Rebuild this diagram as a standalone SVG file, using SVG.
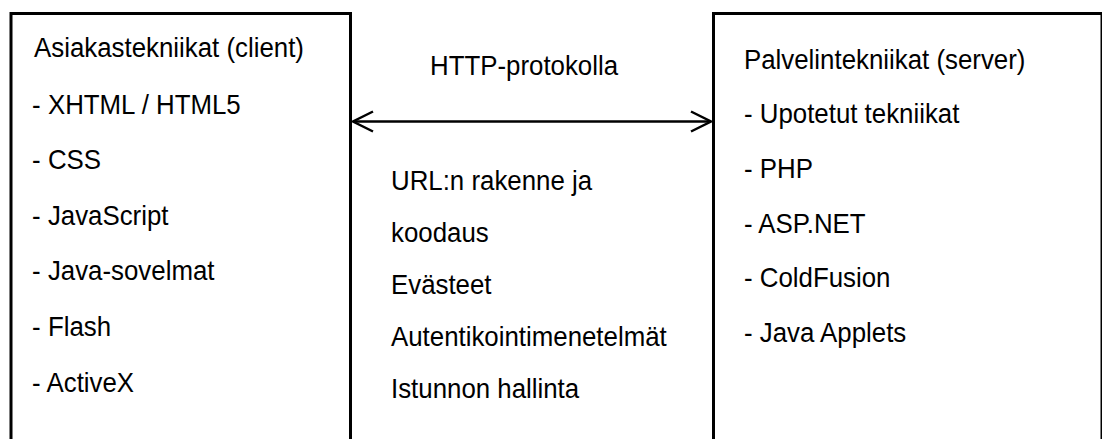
<svg xmlns="http://www.w3.org/2000/svg" width="1102" height="439" viewBox="0 0 1102 439">
  <style>
    .box { fill: #ffffff; stroke: #000000; stroke-width: 3; }
    .t { font-family: "Liberation Sans", Arial, sans-serif; font-size: 27.5px; fill: #000000; }
    .conn { stroke: #000000; stroke-width: 2.5; fill: none; }
  </style>
  <defs>
    <marker id="chev" markerUnits="userSpaceOnUse" markerWidth="24" markerHeight="24" viewBox="0 0 24 24" refX="21" refY="12" orient="auto-start-reverse">
      <path d="M1,2 L21,12 L1,22" fill="none" stroke="#000000" stroke-width="2.5" stroke-linejoin="miter"/>
    </marker>
  </defs>
  <rect width="1102" height="439" fill="#ffffff"/>

  <g id="client">
    <rect class="box" x="11" y="13.5" width="339.5" height="440"/>
    <g transform="translate(34,0) scale(0.94,1)">
      <text class="t" x="0" y="57">Asiakastekniikat (client)</text>
      <text class="t" x="-2" y="114">- XHTML / HTML5</text>
      <text class="t" x="-2" y="169">- CSS</text>
      <text class="t" x="-2" y="225">- JavaScript</text>
      <text class="t" x="-2" y="280">- Java-sovelmat</text>
      <text class="t" x="-2" y="336">- Flash</text>
      <text class="t" x="-2" y="392">- ActiveX</text>
    </g>
  </g>

  <g id="server">
    <rect class="box" x="713.5" y="13.5" width="388.5" height="440"/>
    <g transform="translate(744,0) scale(0.94,1)">
      <text class="t" x="0" y="69">Palvelintekniikat (server)</text>
      <text class="t" x="0" y="123">- Upotetut tekniikat</text>
      <text class="t" x="0" y="178">- PHP</text>
      <text class="t" x="0" y="233">- ASP.NET</text>
      <text class="t" x="0" y="287">- ColdFusion</text>
      <text class="t" x="0" y="342">- Java Applets</text>
    </g>
  </g>

  <g id="protocol">
    <g transform="translate(430,0) scale(0.94,1)">
      <text class="t" x="0" y="75">HTTP-protokolla</text>
    </g>
    <g transform="translate(391,0) scale(0.94,1)">
      <text class="t" x="0" y="190">URL:n rakenne ja</text>
      <text class="t" x="0" y="242">koodaus</text>
      <text class="t" x="0" y="294">Evästeet</text>
      <text class="t" x="0" y="346">Autentikointimenetelmät</text>
      <text class="t" x="0" y="398">Istunnon hallinta</text>
    </g>
  </g>

  <g id="connectors">
    <line class="conn" x1="353" y1="121.5" x2="711" y2="121.5" marker-start="url(#chev)" marker-end="url(#chev)"/>
  </g>
</svg>
